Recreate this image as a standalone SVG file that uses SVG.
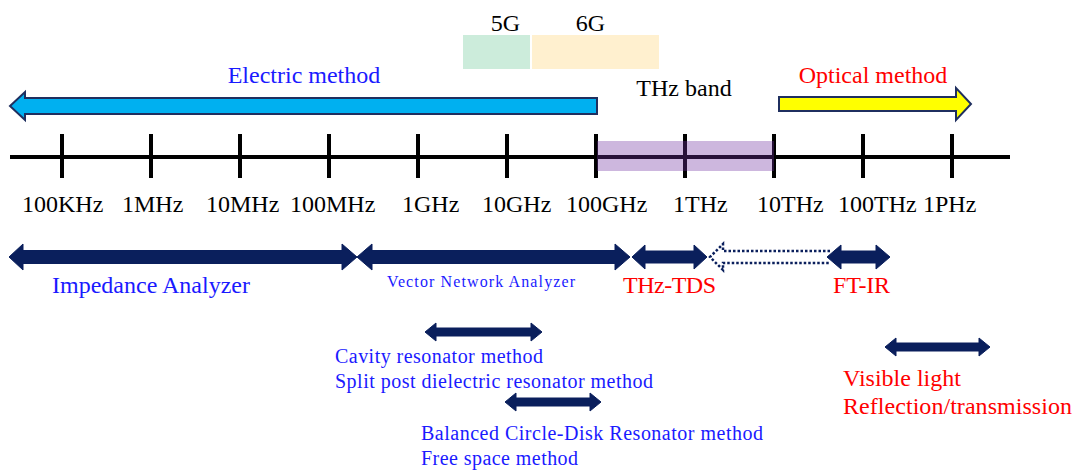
<svg xmlns="http://www.w3.org/2000/svg" width="1078" height="470" viewBox="0 0 1078 470">
<style>
text{font-family:"Liberation Serif","Times New Roman",serif;}
.k{fill:#000;font-size:24px;}
.b{fill:#1a1aff;}
.r{fill:#ff0000;}
.tick{stroke:#000;stroke-width:4;}
.nav{fill:#0a1f5c;stroke:#0a1f5c;stroke-width:1;stroke-linejoin:round;}
</style>
<rect width="1078" height="470" fill="#fff"/>
<g id="bands">
<rect x="463" y="35" width="67" height="34" fill="#ccecdb"/>
<rect x="532" y="35" width="127" height="34" fill="#fff0cf"/>
<text class="k" x="505.5" y="31" text-anchor="middle">5G</text>
<text class="k" x="590.5" y="31" text-anchor="middle">6G</text>
</g>
<g id="electric">
<path d="M597 98 L25 98 L25 92 L10 106 L25 120 L25 114 L597 114 Z" fill="#00b0f0" stroke="#1f2f5f" stroke-width="2"/>
<text class="b" x="304" y="83" font-size="24" text-anchor="middle">Electric method</text>
</g>
<g id="optical">
<path d="M779 97 L956 97 L956 88 L971 104 L956 120 L956 111 L779 111 Z" fill="#ffff00" stroke="#1f2f5f" stroke-width="2"/>
<text class="r" x="873" y="83" font-size="24" text-anchor="middle">Optical method</text>
</g>
<g id="axis">
<line x1="10" y1="157" x2="1010" y2="157" stroke="#000" stroke-width="4"/>
<g class="tick">
<line x1="62" y1="134" x2="62" y2="178"/>
<line x1="151" y1="134" x2="151" y2="178"/>
<line x1="240" y1="134" x2="240" y2="178"/>
<line x1="329" y1="134" x2="329" y2="178"/>
<line x1="418" y1="134" x2="418" y2="178"/>
<line x1="507" y1="134" x2="507" y2="178"/>
<line x1="596" y1="134" x2="596" y2="178"/>
<line x1="685" y1="134" x2="685" y2="178"/>
<line x1="774" y1="134" x2="774" y2="178"/>
<line x1="863" y1="134" x2="863" y2="178"/>
<line x1="952" y1="134" x2="952" y2="178"/>
</g>
<rect x="597" y="141" width="177" height="30" fill="#7030a0" opacity="0.35"/>
<text class="k" x="684" y="96" font-size="23" text-anchor="middle">THz band</text>
<g class="k">
<text x="22" y="212">100KHz</text>
<text x="122" y="212">1MHz</text>
<text x="206" y="212">10MHz</text>
<text x="290" y="212">100MHz</text>
<text x="402" y="212">1GHz</text>
<text x="482" y="212">10GHz</text>
<text x="566" y="212">100GHz</text>
<text x="673" y="212">1THz</text>
<text x="757" y="212">10THz</text>
<text x="838" y="212">100THz</text>
<text x="923" y="212">1PHz</text>
</g>
</g>
<g id="connectors">
<path class="nav" d="M9 257 L23 244 L23 250.5 L342 250.5 L342 244 L357 257 L342 270 L342 263.5 L23 263.5 L23 270 Z"/>
<path class="nav" d="M357 257 L372 244 L372 250.5 L615 250.5 L615 244 L630 257 L615 270 L615 263.5 L372 263.5 L372 270 Z"/>
<path class="nav" d="M632 257 L645 245 L645 251 L694 251 L694 245 L707 257 L694 269 L694 263 L645 263 L645 269 Z"/>
<path d="M830 251 L723 251 L723 244 L710 257 L723 270 L723 263 L830 263" fill="none" stroke="#0a1f5c" stroke-width="2.5" stroke-dasharray="2.5 2"/>
<path class="nav" d="M827 257 L841 245 L841 251 L876 251 L876 245 L890 257 L876 269 L876 263 L841 263 L841 269 Z"/>
<path class="nav" d="M425 332 L436 323 L436 328 L531 328 L531 323 L542 332 L531 341 L531 336 L436 336 L436 341 Z"/>
<path class="nav" d="M505 402 L516 393 L516 398 L590 398 L590 393 L601 402 L590 411 L590 406 L516 406 L516 411 Z"/>
<path class="nav" d="M885 347 L896 338 L896 343 L979 343 L979 338 L990 347 L979 356 L979 351 L896 351 L896 356 Z"/>
</g>
<g id="labels">
<text class="b" x="52" y="293" font-size="24" textLength="198">Impedance Analyzer</text>
<text class="b" x="387" y="287" font-size="16" textLength="188">Vector Network Analyzer</text>
<text class="r" x="623" y="293" font-size="24" textLength="93">THz-TDS</text>
<text class="r" x="833" y="293" font-size="24" textLength="57">FT-IR</text>
<text class="b" x="335" y="363" font-size="20" textLength="208">Cavity resonator method</text>
<text class="b" x="335" y="388" font-size="20" textLength="318">Split post dielectric resonator method</text>
<text class="b" x="421" y="440" font-size="20" textLength="342">Balanced Circle-Disk Resonator method</text>
<text class="b" x="421" y="465" font-size="20" textLength="157">Free space method</text>
<text class="r" x="843" y="386" font-size="24">Visible light</text>
<text class="r" x="843" y="414" font-size="24" textLength="229">Reflection/transmission</text>
</g>
</svg>
